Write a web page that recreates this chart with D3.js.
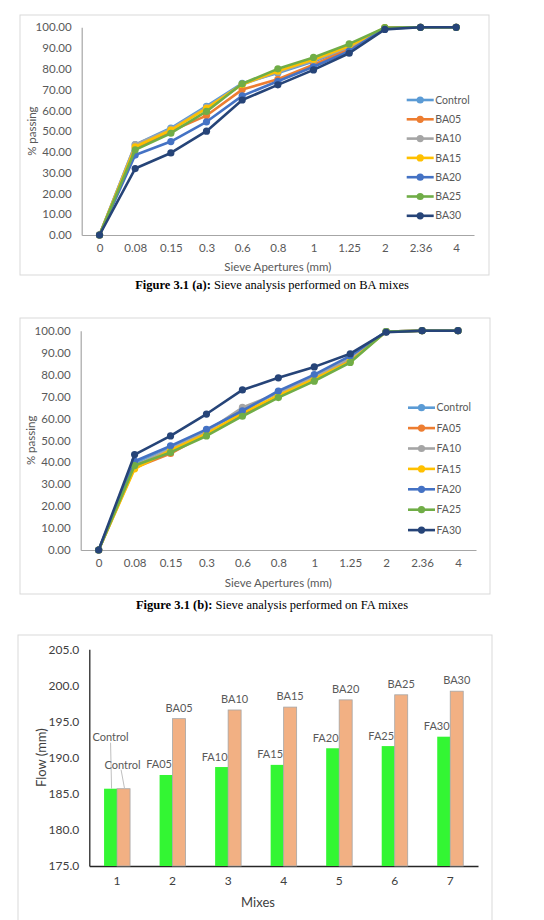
<!DOCTYPE html>
<html>
<head>
<meta charset="utf-8">
<script src="https://cdn.jsdelivr.net/npm/d3@7"></script>
<style>
  body { margin: 0; background: #fff; }
  svg { display: block; font-family: Lato, "Open Sans", sans-serif; }
</style>
</head>
<body>
<div id="chart"></div>
<script>
// ---- data ----
var sieveSizes = ["0", "0.08", "0.15", "0.3", "0.6", "0.8", "1", "1.25", "2", "2.36", "4"];
var pctTicks = [0, 10, 20, 30, 40, 50, 60, 70, 80, 90, 100];

var baNames = ["Control", "BA05", "BA10", "BA15", "BA20", "BA25", "BA30"];
var baControl = [0, 43.5, 51.5, 62.0, 73.0, 78.0, 83.5, 90.0, 99.7, 100, 100];
var ba05 = [0, 42.0, 50.0, 57.5, 70.0, 75.0, 82.0, 89.5, 99.7, 100, 100];
var ba10 = [0, 43.5, 51.0, 61.5, 72.5, 78.5, 84.0, 90.5, 99.7, 100, 100];
var ba15 = [0, 42.5, 50.5, 61.0, 72.5, 79.0, 84.5, 91.0, 99.8, 100, 100];
var ba20 = [0, 38.5, 45.0, 54.5, 67.0, 74.0, 81.0, 88.5, 99.5, 100, 100];
var ba25 = [0, 41.0, 49.0, 59.5, 72.8, 80.0, 85.5, 92.0, 99.8, 100, 100];
var ba30 = [0, 32.0, 39.5, 50.0, 65.0, 72.3, 79.5, 87.5, 99.0, 100, 100];

var faNames = ["Control", "FA05", "FA10", "FA15", "FA20", "FA25", "FA30"];
var faControl = [0, 39.5, 47.0, 54.5, 63.5, 72.0, 79.5, 88.0, 99.6, 100, 100];
var fa05 = [0, 37.5, 44.0, 53.0, 62.0, 70.0, 78.0, 86.5, 99.6, 100, 100];
var fa10 = [0, 38.5, 46.0, 54.0, 65.0, 71.5, 79.0, 87.5, 99.6, 100, 100];
var fa15 = [0, 37.0, 45.5, 53.0, 62.5, 70.5, 78.0, 86.0, 99.6, 100, 100];
var fa20 = [0, 40.5, 47.5, 55.0, 63.5, 72.5, 80.0, 88.5, 99.6, 100, 100];
var fa25 = [0, 38.5, 44.5, 52.0, 61.0, 69.5, 77.0, 85.5, 99.6, 100, 100];
var fa30 = [0, 43.5, 52.0, 62.0, 73.0, 78.5, 83.5, 89.5, 99.3, 100, 100];

var mixes = ["1", "2", "3", "4", "5", "6", "7"];
var flowTicks = [175, 180, 185, 190, 195, 200, 205];
var faFlow = [185.7, 187.6, 188.7, 189.0, 191.3, 191.6, 192.9];
var baFlow = [185.7, 195.4, 196.6, 197.0, 198.0, 198.7, 199.2];
var faFlowLabels = ["Control", "FA05", "FA10", "FA15", "FA20", "FA25", "FA30"];
var baFlowLabels = ["Control", "BA05", "BA10", "BA15", "BA20", "BA25", "BA30"];

var seriesColors = ["#5b9bd5", "#ed7d31", "#a5a5a5", "#ffc000", "#4472c4", "#70ad47", "#264478"];

var svg = d3.select("#chart").append("svg")
    .attr("width", 544)
    .attr("height", 920);

svg.append("rect").attr("width", 544).attr("height", 920).attr("fill", "#fff");

// caption under each figure: bold lead + normal text
function caption(y, lead, rest) {
    var t = svg.append("text")
        .attr("x", 272)
        .attr("y", y)
        .attr("text-anchor", "middle")
        .attr("font-family", "'Liberation Serif', 'Times New Roman', serif")
        .attr("font-size", "12.5px")
        .attr("fill", "#000");
    t.append("tspan").attr("font-weight", "bold").text(lead);
    t.append("tspan").text(rest);
}

function lineChart(opt) {
    svg.append("rect")
        .attr("x", opt.frame[0]).attr("y", opt.frame[1])
        .attr("width", opt.frame[2] - opt.frame[0])
        .attr("height", opt.frame[3] - opt.frame[1])
        .attr("fill", "none")
        .attr("stroke", "#d9d9d9");

    var x = d3.scalePoint().domain(sieveSizes).range([opt.left, opt.right]).padding(0.5);
    var y = d3.scaleLinear().domain([0, 100]).range([opt.bottom, opt.top]);

    var yAxis = svg.append("g")
        .attr("transform", "translate(" + opt.left + ",0)")
        .call(d3.axisLeft(y).tickValues(pctTicks).tickFormat(d3.format(".2f")).tickSize(0).tickPadding(10));
    yAxis.select(".domain").attr("stroke", "#a6a6a6").attr("stroke-width", 1.2);
    yAxis.selectAll("text").attr("font-size", "11.5px").attr("fill", "#595959").attr("font-family", "Lato, sans-serif");

    var xAxis = svg.append("g")
        .attr("transform", "translate(0," + opt.bottom + ")")
        .call(d3.axisBottom(x).tickSize(0).tickPadding(9));
    xAxis.select(".domain").attr("stroke", "#a6a6a6").attr("stroke-width", 1.2);
    xAxis.selectAll("text").attr("font-size", "11.5px").attr("fill", "#595959").attr("font-family", "Lato, sans-serif");

    svg.append("text")
        .attr("x", (opt.left + opt.right) / 2)
        .attr("y", opt.xTitleY)
        .attr("text-anchor", "middle")
        .attr("font-size", "11.5px")
        .attr("fill", "#595959")
        .text("Sieve Apertures (mm)");

    svg.append("text")
        .attr("transform", "translate(" + opt.yTitleX + "," + (opt.top + opt.bottom) / 2 + ") rotate(-90)")
        .attr("text-anchor", "middle")
        .attr("font-size", "11.5px")
        .attr("fill", "#595959")
        .text("% passing");

    var line = d3.line().x(function (d, i) { return x(sieveSizes[i]); }).y(function (d) { return y(d); });

    opt.series.forEach(function (vals, k) {
        svg.append("path")
            .datum(vals)
            .attr("d", line)
            .attr("fill", "none")
            .attr("stroke", seriesColors[k])
            .attr("stroke-width", 2.6)
            .attr("stroke-linejoin", "round");
        svg.selectAll(null)
            .data(vals)
            .enter()
            .append("circle")
            .attr("cx", function (d, i) { return x(sieveSizes[i]); })
            .attr("cy", function (d) { return y(d); })
            .attr("r", 3.6)
            .attr("fill", seriesColors[k]);
    });

    // legend
    var legend = svg.selectAll(null)
        .data(opt.names)
        .enter()
        .append("g")
        .attr("transform", function (d, i) { return "translate(" + opt.legX + "," + (opt.legY + i * opt.legStep) + ")"; });
    legend.append("line")
        .attr("x1", 0).attr("x2", 27)
        .attr("stroke", function (d, i) { return seriesColors[i]; })
        .attr("stroke-width", 2.6);
    legend.append("circle")
        .attr("cx", 13.5).attr("r", 3.6)
        .attr("fill", function (d, i) { return seriesColors[i]; });
    legend.append("text")
        .attr("x", 28.5)
        .attr("dy", "0.35em")
        .attr("font-size", "10.5px")
        .attr("fill", "#595959")
        .text(function (d) { return d; });
}

// Figure 3.1 (a)
lineChart({
    frame: [20, 15, 489, 275],
    left: 81.7, right: 474, top: 27.3, bottom: 235,
    xTitleY: 271, yTitleX: 36,
    series: [baControl, ba05, ba10, ba15, ba20, ba25, ba30],
    names: baNames,
    legX: 406.7, legY: 100, legStep: 19.3
});
caption(289, "Figure 3.1 (a):", " Sieve analysis performed on BA mixes");

// Figure 3.1 (b)
lineChart({
    frame: [20, 318, 490, 594],
    left: 80.7, right: 476, top: 330.7, bottom: 550,
    xTitleY: 587, yTitleX: 35,
    series: [faControl, fa05, fa10, fa15, fa20, fa25, fa30],
    names: faNames,
    legX: 408, legY: 407.7, legStep: 20.4
});
caption(609, "Figure 3.1 (b):", " Sieve analysis performed on FA mixes");

// Flow bar chart
(function () {
    var left = 89.3, right = 478, top = 649.3, bottom = 866;
    svg.append("rect")
        .attr("x", 18).attr("y", 635)
        .attr("width", 474).attr("height", 290)
        .attr("fill", "none")
        .attr("stroke", "#d9d9d9");

    var x = d3.scaleBand().domain(mixes).range([left, right]);
    var y = d3.scaleLinear().domain([175, 205]).range([bottom, top]);
    var bw = 13;

    var yAxis = svg.append("g")
        .attr("transform", "translate(" + left + ",0)")
        .call(d3.axisLeft(y).tickValues(flowTicks).tickFormat(d3.format(".1f")).tickSize(0).tickPadding(10));
    yAxis.select(".domain").attr("stroke", "#262626").attr("stroke-width", 1.3);
    yAxis.selectAll("text").attr("font-size", "12px").attr("fill", "#404040").attr("font-family", "Lato, sans-serif");

    var xAxis = svg.append("g")
        .attr("transform", "translate(0," + bottom + ")")
        .call(d3.axisBottom(x).tickSize(0).tickPadding(10));
    xAxis.select(".domain").attr("stroke", "#262626").attr("stroke-width", 1.3);
    xAxis.selectAll("text").attr("font-size", "12px").attr("fill", "#404040").attr("font-family", "Lato, sans-serif");

    function cx(i) { return x(mixes[i]) + x.bandwidth() / 2; }

    svg.selectAll(null).data(faFlow).enter().append("rect")
        .attr("x", function (d, i) { return cx(i) - bw; })
        .attr("y", function (d) { return y(d); })
        .attr("width", bw)
        .attr("height", function (d) { return bottom - y(d); })
        .attr("fill", "#33f633");

    svg.selectAll(null).data(baFlow).enter().append("rect")
        .attr("x", function (d, i) { return cx(i); })
        .attr("y", function (d) { return y(d); })
        .attr("width", bw)
        .attr("height", function (d) { return bottom - y(d); })
        .attr("fill", "#f2b083")
        .attr("stroke", "#a6a6a6")
        .attr("stroke-width", 0.8);

    // data labels
    svg.selectAll(null).data(faFlow).enter().append("text")
        .filter(function (d, i) { return i > 0; })
        .attr("x", function (d, i) { return cx(i + 1) - bw / 2 - 7; })
        .attr("y", function (d) { return y(d) - 6.5; })
        .attr("text-anchor", "middle")
        .attr("font-size", "11px")
        .attr("fill", "#595959")
        .text(function (d, i) { return faFlowLabels[i + 1]; });

    svg.selectAll(null).data(baFlow).enter().append("text")
        .filter(function (d, i) { return i > 0; })
        .attr("x", function (d, i) { return cx(i + 1) + bw / 2; })
        .attr("y", function (d) { return y(d) - 7; })
        .attr("text-anchor", "middle")
        .attr("font-size", "11px")
        .attr("fill", "#595959")
        .text(function (d, i) { return baFlowLabels[i + 1]; });

    // the two "Control" labels are pulled up with leader lines
    var gx = cx(0) - bw / 2, gy = y(faFlow[0]);
    svg.append("line")
        .attr("x1", gx).attr("y1", gy - 46).attr("x2", gx + 1).attr("y2", gy)
        .attr("stroke", "#bfbfbf").attr("stroke-width", 1);
    svg.append("text")
        .attr("x", gx).attr("y", gy - 48)
        .attr("text-anchor", "middle")
        .attr("font-size", "11px").attr("fill", "#595959")
        .text(faFlowLabels[0]);

    var ox = cx(0) + bw / 2, oy = y(baFlow[0]);
    svg.append("line")
        .attr("x1", ox - 2.5).attr("y1", oy - 19).attr("x2", ox + 1).attr("y2", oy)
        .attr("stroke", "#bfbfbf").attr("stroke-width", 1);
    svg.append("text")
        .attr("x", ox - 1).attr("y", oy - 20)
        .attr("text-anchor", "middle")
        .attr("font-size", "11px").attr("fill", "#595959")
        .text(baFlowLabels[0]);

    svg.append("text")
        .attr("transform", "translate(41," + (top + bottom) / 2 + ") rotate(-90)")
        .attr("text-anchor", "middle")
        .attr("dy", "0.35em")
        .attr("font-size", "13px")
        .attr("fill", "#404040")
        .text("Flow (mm)");

    svg.append("text")
        .attr("x", 258)
        .attr("y", 907)
        .attr("text-anchor", "middle")
        .attr("font-size", "13px")
        .attr("fill", "#404040")
        .text("Mixes");
})();
</script>
</body>
</html>
